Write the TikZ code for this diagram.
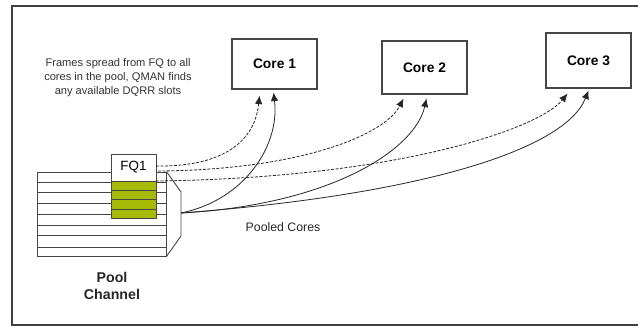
\documentclass[tikz,border=0pt]{standalone}
\usepackage{fontspec}
\setmainfont{Liberation Sans}
\usetikzlibrary{arrows.meta}
\definecolor{cellgreen}{RGB}{166,186,8}
\definecolor{linegray}{RGB}{70,70,70}
\tikzset{
  corebox/.style={draw=linegray, line width=1.1pt, fill=white, inner sep=0pt, font=\fontsize{13.8}{16}\selectfont\bfseries},
  cell/.style={draw=linegray, line width=0.9pt, fill=cellgreen, minimum width=45pt, minimum height=9.25pt, inner sep=0pt, outer sep=0pt},
  link/.style={draw=black!85, line width=0.8pt, -{Latex[length=8.5pt,width=7.5pt]}},
  dlink/.style={link, dash pattern=on 3pt off 1.5pt},
  rowline/.style={draw=linegray, line width=0.9pt},
}
\begin{document}
\begin{tikzpicture}[x=1pt,y=-1pt]
\useasboundingbox (0,0) rectangle (638,326);
% frame
\draw[draw=black!75, line width=1.1pt] (638,6) -- (12,6) -- (12,325) -- (638,325);

% description text
\node[align=center, text=black!80, font=\fontsize{11.1}{14}\selectfont] (desc) at (118,78)
  {Frames spread from FQ to all\\cores in the pool, QMAN finds\\any available DQRR slots};

% cores
\node[corebox, minimum width=85pt, minimum height=50pt] (c1) at (274.5,64) {Core 1};
\node[corebox, minimum width=85pt, minimum height=53pt] (c2) at (424.5,67.5) {Core 2};
\node[corebox, minimum width=85pt, minimum height=55pt] (c3) at (588.5,60.5) {Core 3};

% pool channel stack
\node[draw=linegray, line width=0.9pt, minimum width=129pt, minimum height=84pt, inner sep=0pt] (stack) at (101.5,214) {};
\foreach \yy in {182,192,203,214,225,235,247} \draw[rowline] (37,\yy) -- (166,\yy);
\draw[rowline] (stack.north east) -- (181,192) coordinate (fa) -- (181,236) coordinate (fb) -- (stack.south east);

% FQ1 and green cells
\node[draw=linegray, line width=0.9pt, fill=white, minimum width=45pt, minimum height=27pt, inner sep=0pt, font=\fontsize{13.4}{16}\selectfont] (fq) at (133.5,167.5) {FQ1};
\node[cell, anchor=north] (g1) at (fq.south) {};
\node[cell, anchor=north] (g2) at (g1.south) {};
\node[cell, anchor=north] (g3) at (g2.south) {};
\node[cell, anchor=north] (g4) at (g3.south) {};

% labels
\node[font=\fontsize{14.2}{17}\selectfont\bfseries, align=center, text=black!85] (pc) at (112,285.5) {Pool\\Channel};
\node[font=\fontsize{12.3}{14}\selectfont, text=black!85] (pooled) at (283,227) {Pooled Cores};

% connector end points
\coordinate (src) at (181,213);
\coordinate (d1) at (156,166);
\coordinate (d2) at (158,171);
\coordinate (d3) at (156,181);
\coordinate (t1d) at ([xshift=-15pt,yshift=-6pt]c1.south);
\coordinate (t1s) at ([xshift=-1pt,yshift=-3pt]c1.south);
\coordinate (t2d) at ([xshift=-21pt,yshift=-4pt]c2.south);
\coordinate (t2s) at ([xshift=2pt,yshift=-4pt]c2.south);
\coordinate (t3d) at ([xshift=-21pt,yshift=-5pt]c3.south);
\coordinate (t3s) at ([xshift=0pt,yshift=-2pt]c3.south);

% dashed connectors
\draw[dlink] (d1) .. controls (225,167) and (255,140) .. (t1d);
\draw[dlink] (d2) .. controls (300,170) and (385,135) .. (t2d);
\draw[dlink] (d3) .. controls (400,178) and (540,128) .. (t3d);

% solid connectors
\draw[link] (src) .. controls (245,200) and (280,145) .. (t1s);
\draw[link] (src) .. controls (330,205) and (415,150) .. (t2s);
\draw[link] (src) .. controls (420,195) and (565,150) .. (t3s);
\end{tikzpicture}
\end{document}
